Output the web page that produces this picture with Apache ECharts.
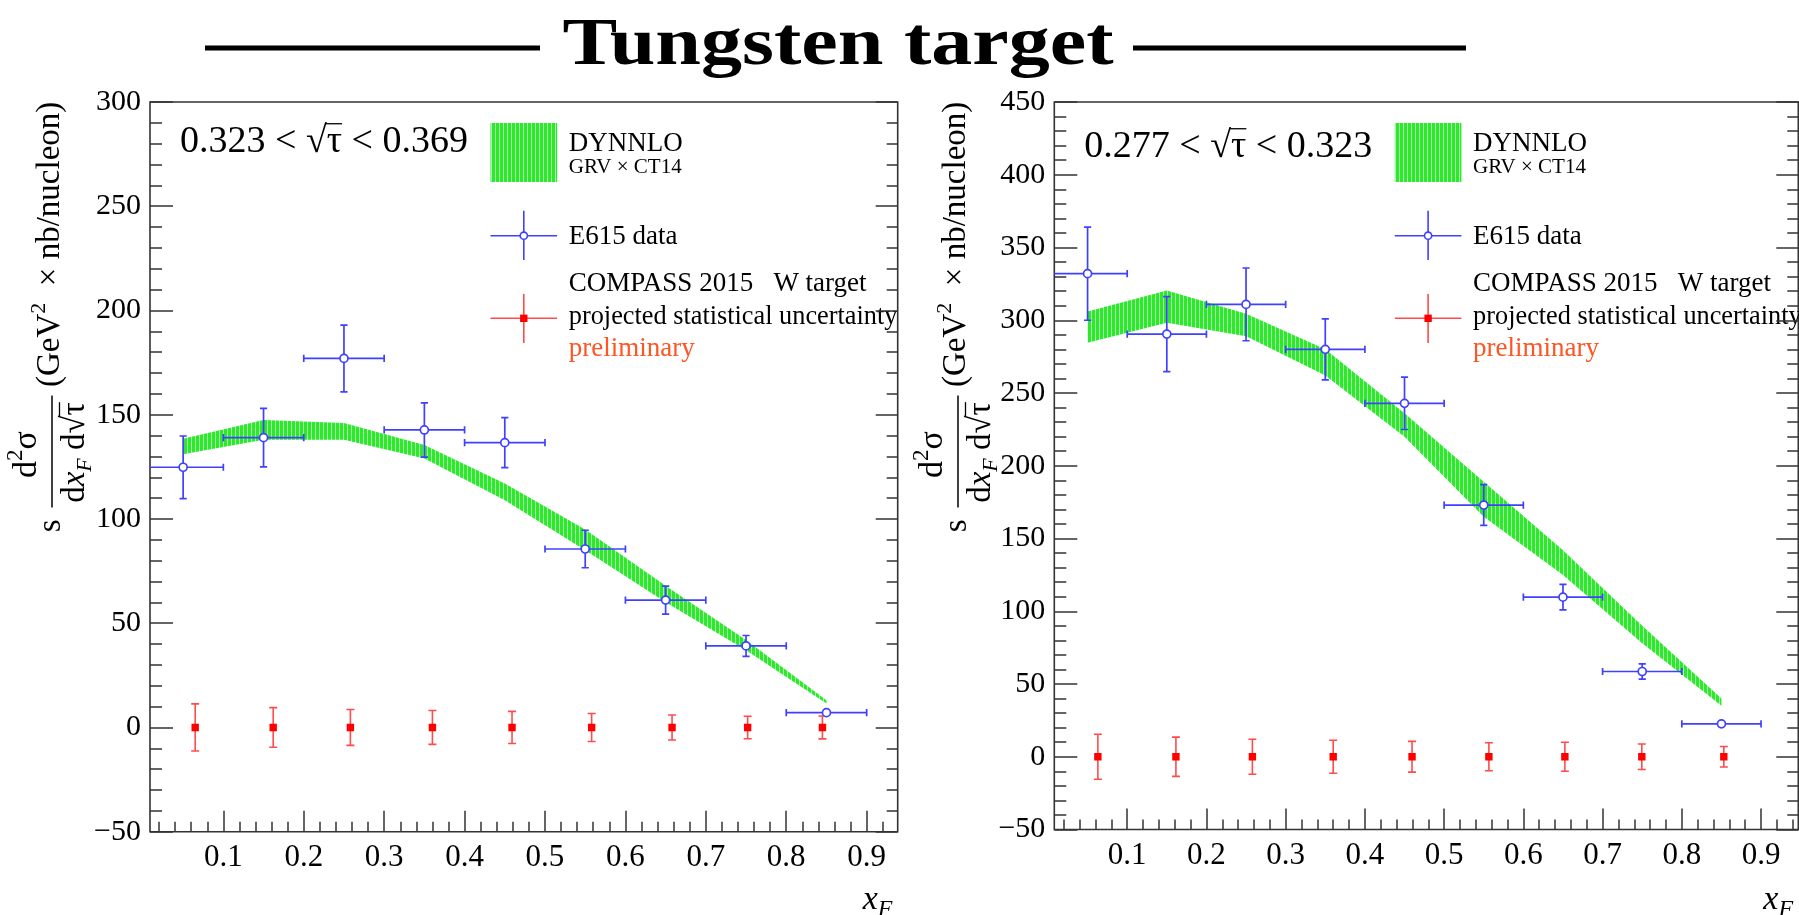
<!DOCTYPE html>
<html><head><meta charset="utf-8">
<script src="https://cdn.jsdelivr.net/npm/echarts@6/dist/echarts.min.js"></script>
<style>html,body{margin:0;padding:0;background:#fff}#c{width:1799px;height:915px}</style>
</head><body><div id="c"></div>
<script>
// ---------------- data ----------------
const xBins = [0.05, 0.15, 0.25, 0.35, 0.45, 0.55, 0.65, 0.75, 0.85];
const xHalfWidth = [0.05, 0.05, 0.05, 0.05, 0.05, 0.05, 0.05, 0.05, 0.05];
const majorTicksX = [0.1, 0.2, 0.3, 0.4, 0.5, 0.6, 0.7, 0.8, 0.9];

// Left panel: 0.323 < sqrt(tau) < 0.369
const L_e615 = [124.8, 139, 177, 142.7, 136.6, 85.6, 61.1, 39.1, 7.1];
const L_e615Err = [15, 14, 16, 13, 12, 9, 6.7, 5, 1.5];
const L_bandLow = [131, 138, 138, 129, 109, 85, 60, 37, 11.5];
const L_bandHigh = [138.5, 147.5, 146, 135.5, 117, 95, 68, 42, 13];
const L_compassX = [0.065, 0.162, 0.258, 0.360, 0.459, 0.558, 0.658, 0.752, 0.845];
const L_compassY = [0, 0, 0, 0, 0, 0, 0, 0, 0];
const L_compassErr = [11.3, 9.5, 8.6, 8.1, 7.7, 6.7, 6.0, 5.4, 5.5];

// Right panel: 0.277 < sqrt(tau) < 0.323
const R_e615 = [332, 290.5, 310.9, 280, 242.9, 173, 109.7, 58.6, 22.6];
const R_e615Err = [32, 25.8, 25, 21, 18, 14, 8.8, 5.3, 2];
const R_bandLow = [284.5, 298.3, 289, 262, 220, 165, 125, 78, 35];
const R_bandHigh = [306, 320.5, 304.5, 280, 236, 189, 142, 90, 40];
const R_compassX = [0.063, 0.1615, 0.258, 0.360, 0.4595, 0.5565, 0.6524, 0.7495, 0.853];
const R_compassY = [0, 0, 0, 0, 0, 0, 0, 0, 0];
const R_compassErr = [15.5, 13.5, 12, 11.3, 10.6, 9.6, 10, 8.8, 7];

// ---------------- style ----------------
const SERIF = '"Liberation Serif", "Times New Roman", serif';
const AX = '#333';
const BLUE = '#4040ff';
const RED = '#ff0000';
const RED_BAR = '#ff4b4b';
const ORANGE = '#ff5522';

function makePattern() {
  const c = document.createElement('canvas'); c.width = 4; c.height = 2;
  const g = c.getContext('2d');
  g.fillStyle = '#2ee82e'; g.fillRect(0, 0, 4, 2);
  g.fillStyle = '#a6f4a6'; g.fillRect(3, 0, 1, 2);
  return c;
}
const GREEN_FILL = { image: makePattern(), repeat: 'repeat' };

const mctx = document.createElement('canvas').getContext('2d');
function tw(t, sz, it, bold, fam) {
  mctx.font = (it ? 'italic ' : '') + (bold ? 'bold ' : '') + sz + 'px ' + (fam || SERIF);
  return mctx.measureText(t).width;
}
// run of text pieces laid out left-to-right; y is the "middle" of the main run
function textRun(pieces, x, y, align, color) {
  let total = 0;
  pieces.forEach(p => { p.w = tw(p.t, p.sz, p.it); total += p.w; });
  let cx = align === 'center' ? x - total / 2 : (align === 'right' ? x - total : x);
  const els = [];
  pieces.forEach(p => {
    els.push({ type: 'text', x: cx, y: y + (p.dy || 0), style: {
      text: p.t, fontFamily: SERIF, fontSize: p.sz, fontStyle: p.it ? 'italic' : 'normal',
      fill: color || '#000', align: 'left', verticalAlign: 'middle' } });
    if (p.over) {
      const oy = y - p.sz * 0.47;
      els.push({ type: 'line', shape: { x1: cx - 1, y1: oy, x2: cx + p.w, y2: oy }, style: { stroke: color || '#000', lineWidth: 1.3 } });
    }
    cx += p.w;
  });
  return els;
}

const panels = [
  { grid: { left: 150, top: 102, width: 747.7, height: 729.7 }, xr: [0.0088, 0.9386], yr: [-50, 300],
    e615: L_e615, e615Err: L_e615Err, lo: L_bandLow, hi: L_bandHigh,
    cx: L_compassX, cy: L_compassY, cErr: L_compassErr, range: ['0.323', '0.369'], annBase: 153, yTitleX: 52 },
  { grid: { left: 1054.3, top: 102, width: 744, height: 727.5 }, xr: [0.008, 0.947], yr: [-50, 450],
    e615: R_e615, e615Err: R_e615Err, lo: R_bandLow, hi: R_bandHigh,
    cx: R_compassX, cy: R_compassY, cErr: R_compassErr, range: ['0.277', '0.323'], annBase: 158, yTitleX: 958 }
];

function minorTicks(xr) {
  const out = [];
  for (let k = 1; k <= 47; k++) {
    const v = Math.round(k * 2) / 100;
    if (k % 5 !== 0 && v >= xr[0] && v <= xr[1]) out.push(v);
  }
  return out;
}
const yFmt = v => v < 0 ? '\u2212' + Math.abs(v) : String(v);

function bandRender(lo, hi) {
  return function (params, api) {
    if (params.dataIndex !== 0) return null;
    const pts = [];
    for (let k = 0; k < xBins.length; k++) pts.push(api.coord([xBins[k], hi[k]]));
    for (let k = xBins.length - 1; k >= 0; k--) pts.push(api.coord([xBins[k], lo[k]]));
    return { type: 'polygon', shape: { points: pts }, style: { fill: GREEN_FILL, stroke: null } };
  };
}
function e615Render(xMin) {
  return function (params, api) {
    const x = api.value(0), y = api.value(1), xe = api.value(2), ye = api.value(3);
    const c = api.coord([x, y]);
    const lo = Math.max(x - xe, xMin);
    const pl = api.coord([lo, y]), pr = api.coord([x + xe, y]);
    const pt = api.coord([x, y + ye]), pb = api.coord([x, y - ye]);
    const st = { stroke: BLUE, lineWidth: 1.7 };
    const R = 4, CAP = 3.6;
    const ch = [];
    const seg = (x1, y1, x2, y2) => ch.push({ type: 'line', shape: { x1, y1, x2, y2 }, style: st });
    seg(pl[0], c[1], c[0] - R, c[1]);
    seg(c[0] + R, c[1], pr[0], c[1]);
    if (lo === x - xe) seg(pl[0], c[1] - CAP, pl[0], c[1] + CAP);
    seg(pr[0], c[1] - CAP, pr[0], c[1] + CAP);
    if (c[1] - pt[1] > R) { seg(c[0], pt[1], c[0], c[1] - R); seg(c[0] - CAP, pt[1], c[0] + CAP, pt[1]); }
    if (pb[1] - c[1] > R) { seg(c[0], c[1] + R, c[0], pb[1]); seg(c[0] - CAP, pb[1], c[0] + CAP, pb[1]); }
    ch.push({ type: 'circle', shape: { cx: c[0], cy: c[1], r: R }, style: { fill: '#fff', stroke: BLUE, lineWidth: 1.7 } });
    return { type: 'group', children: ch };
  };
}
function compassRender(params, api) {
  const x = api.value(0), y = api.value(1), e = api.value(2);
  const c = api.coord([x, y]), pt = api.coord([x, y + e]), pb = api.coord([x, y - e]);
  const st = { stroke: RED_BAR, lineWidth: 1.6 };
  const CAP = 4, S = 7.4;
  const ch = [
    { type: 'line', shape: { x1: c[0], y1: pt[1], x2: c[0], y2: pb[1] }, style: st },
    { type: 'line', shape: { x1: c[0] - CAP, y1: pt[1], x2: c[0] + CAP, y2: pt[1] }, style: st },
    { type: 'line', shape: { x1: c[0] - CAP, y1: pb[1], x2: c[0] + CAP, y2: pb[1] }, style: st },
    { type: 'rect', shape: { x: c[0] - S / 2, y: c[1] - S / 2, width: S, height: S }, style: { fill: RED } }
  ];
  return { type: 'group', children: ch };
}

const grids = [], xAxes = [], yAxes = [], series = [], graphics = [];
panels.forEach((p, i) => {
  grids.push(Object.assign({ show: true, borderColor: AX, borderWidth: 1.6, backgroundColor: 'transparent' }, p.grid));
  const tickLS = { color: AX, width: 1.5 };
  xAxes.push({ gridIndex: i, type: 'value', position: 'bottom', min: p.xr[0], max: p.xr[1], axisLine: { show: false, onZero: false }, splitLine: { show: false },
    axisTick: { show: true, inside: true, length: 21, customValues: majorTicksX, lineStyle: tickLS },
    axisLabel: { show: true, customValues: majorTicksX, margin: 11, fontFamily: SERIF, fontSize: 31, color: '#000', formatter: v => v.toFixed(1) } });
  xAxes.push({ gridIndex: i, type: 'value', position: 'bottom', min: p.xr[0], max: p.xr[1], axisLine: { show: false, onZero: false }, splitLine: { show: false },
    axisTick: { show: true, inside: true, length: 10, customValues: minorTicks(p.xr), lineStyle: tickLS },
    axisLabel: { show: false } });
  yAxes.push({ gridIndex: i, type: 'value', position: 'left', min: p.yr[0], max: p.yr[1], interval: 50,
    axisLine: { show: false, onZero: false }, splitLine: { show: false },
    axisTick: { show: true, inside: true, length: 23, lineStyle: tickLS },
    minorTick: { show: true, splitNumber: 5, length: 12, lineStyle: tickLS },
    axisLabel: { margin: 9, fontFamily: SERIF, fontSize: 30, color: '#000', formatter: yFmt } });
  yAxes.push({ gridIndex: i, type: 'value', position: 'right', min: p.yr[0], max: p.yr[1], interval: 50,
    axisLine: { show: false, onZero: false }, splitLine: { show: false },
    axisTick: { show: true, inside: true, length: 22, lineStyle: tickLS },
    minorTick: { show: true, splitNumber: 5, length: 11, lineStyle: tickLS },
    axisLabel: { show: false } });

  const xi = 2 * i, yi = 2 * i;
  series.push({ type: 'custom', xAxisIndex: xi, yAxisIndex: yi, clip: true, z: 2, silent: true,
    renderItem: bandRender(p.lo, p.hi), data: [[xBins[0], p.lo[0]]], encode: { x: 0, y: 1 } });
  series.push({ type: 'custom', xAxisIndex: xi, yAxisIndex: yi, clip: true, z: 3, silent: true,
    renderItem: compassRender, data: p.cx.map((x, k) => [x, p.cy[k], p.cErr[k]]), encode: { x: 0, y: 1 } });
  series.push({ type: 'custom', xAxisIndex: xi, yAxisIndex: yi, clip: true, z: 4, silent: true,
    renderItem: e615Render(p.xr[0]), data: xBins.map((x, k) => [x, p.e615[k], xHalfWidth[k], p.e615Err[k]]), encode: { x: 0, y: 1 } });

  // ---- legend (drawn) ----
  const L = p.grid.left, bx = L + 340.5, tx = bx + 78.3, mx = bx + 33.3;
  const T = (text, x, base, sz, color) => ({ type: 'text', x, y: base - 0.30 * sz,
    style: { text, fontFamily: SERIF, fontSize: sz, fill: color || '#000', align: 'left', verticalAlign: 'middle' } });
  graphics.push({ type: 'rect', shape: { x: bx, y: 123, width: 66.6, height: 59 }, style: { fill: GREEN_FILL } });
  graphics.push(T('DYNNLO', tx, 152, 27));
  graphics.push(T('GRV \u00d7 CT14', tx, 173.3, 21));
  graphics.push({ type: 'line', shape: { x1: bx, y1: 235.7, x2: bx + 66.6, y2: 235.7 }, style: { stroke: BLUE, lineWidth: 1.6 } });
  graphics.push({ type: 'line', shape: { x1: mx, y1: 210.7, x2: mx, y2: 260 }, style: { stroke: BLUE, lineWidth: 1.6 } });
  graphics.push({ type: 'circle', shape: { cx: mx, cy: 235.7, r: 3.6 }, style: { fill: '#fff', stroke: BLUE, lineWidth: 1.6 } });
  graphics.push(T('E615 data', tx, 245, 27));
  graphics.push(T('COMPASS 2015   W target', tx, 291.7, 27));
  graphics.push({ type: 'line', shape: { x1: bx, y1: 318.3, x2: bx + 66.6, y2: 318.3 }, style: { stroke: RED_BAR, lineWidth: 1.6 } });
  graphics.push({ type: 'line', shape: { x1: mx, y1: 294, x2: mx, y2: 343 }, style: { stroke: RED_BAR, lineWidth: 1.6 } });
  graphics.push({ type: 'rect', shape: { x: mx - 3.7, y: 318.3 - 3.7, width: 7.4, height: 7.4 }, style: { fill: RED } });
  graphics.push(T('projected statistical uncertainty', tx, 325, 26.3));
  graphics.push(T('preliminary', tx, 357, 27, ORANGE));

  // ---- annotation ----
  const annY = p.annBase - 0.30 * 38;
  textRun([{ t: p.range[0] + ' < ', sz: 38 }, { t: '\u221a', sz: 38 }, { t: '\u03c4', sz: 38, over: true }, { t: ' < ' + p.range[1], sz: 38 }],
    L + 30, annY, 'left').forEach(e => graphics.push(e));

  // ---- y axis title (rotated) ----
  const kids = [];
  kids.push({ type: 'line', shape: { x1: -56, y1: 0, x2: 56, y2: 0 }, style: { stroke: '#000', lineWidth: 1.5 } });
  textRun([{ t: 'd', sz: 34 }, { t: '2', sz: 23, dy: -11 }, { t: '\u03c3', sz: 34 }], -3, -25, 'center').forEach(e => kids.push(e));
  textRun([{ t: 'd', sz: 33 }, { t: 'x', sz: 33, it: true }, { t: 'F', sz: 22, it: true, dy: 10 }, { t: ' d', sz: 33 }, { t: '\u221a', sz: 33 }, { t: '\u03c4', sz: 33, over: true }],
    -1, 23, 'center').forEach(e => kids.push(e));
  textRun([{ t: 's', sz: 33 }], -68, -1, 'right').forEach(e => kids.push(e));
  textRun([{ t: '(GeV', sz: 33 }, { t: '2', sz: 22, dy: -11 }, { t: '  \u00d7 nb/nucleon)', sz: 33 }], 64.5, -2, 'left').forEach(e => kids.push(e));
  graphics.push({ type: 'group', x: p.yTitleX, y: 451.5, rotation: Math.PI / 2, children: kids });

  // ---- x axis title ----
  const xr = L + p.grid.width;
  textRun([{ t: 'x', sz: 34, it: true }, { t: 'F', sz: 24, it: true, dy: 10 }], xr - 35, 900, 'left').forEach(e => graphics.push(e));
});

// ---- main title ----
const TITLE = 'Tungsten target';
const titleW = tw(TITLE, 68, false, true);
graphics.push({ type: 'text', x: 838, y: 46, scaleX: 551 / titleW, style: { text: TITLE, fontFamily: SERIF, fontWeight: 'bold', fontSize: 68,
  fill: '#000', align: 'center', verticalAlign: 'middle' } });
graphics.push({ type: 'rect', shape: { x: 205, y: 45.5, width: 335, height: 5 }, style: { fill: '#000' } });
graphics.push({ type: 'rect', shape: { x: 1133, y: 45.5, width: 333, height: 5 }, style: { fill: '#000' } });

const chart = echarts.init(document.getElementById('c'), null, { renderer: 'canvas' });
chart.setOption({
  animation: false,
  backgroundColor: '#fff',
  grid: grids, xAxis: xAxes, yAxis: yAxes, series: series,
  graphic: { elements: graphics }
});
</script></body></html>
